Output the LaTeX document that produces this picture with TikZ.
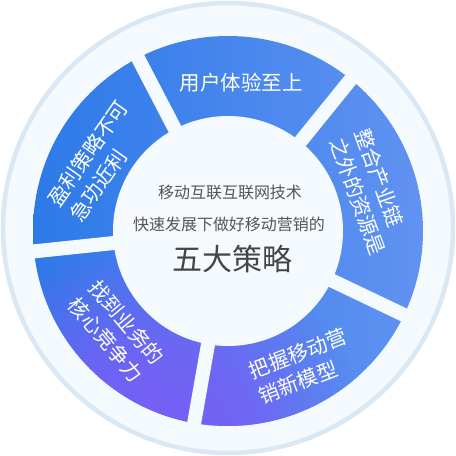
\documentclass[tikz,border=0pt]{standalone}
\usepackage{fontspec}
\newfontfamily\cjk{Noto Sans CJK SC}
\usetikzlibrary{fadings}
\definecolor{ringbg}{HTML}{F5FAFF}
\definecolor{ringline}{HTML}{DAE7F4}
\definecolor{segleft}{HTML}{2C7AE8}
\definecolor{segright}{HTML}{6192F1}
\definecolor{segglow}{HTML}{7E5BF7}
\definecolor{titlegray}{HTML}{555555}
\definecolor{titledark}{HTML}{454545}
% purple glow, opaque in the middle
\pgfdeclareradialshading{glowshade}{\pgfpointorigin}{color(0bp)=(white); color(12bp)=(white!72!black); color(25bp)=(black); color(50bp)=(black)}
\pgfdeclarefading{glowfade}{\pgfuseshading{glowshade}}
\begin{document}
\begin{tikzpicture}[x=1pt, y=1pt, every node/.style={font=\cjk},
    seglabel/.style={text=white, align=left, inner sep=0pt, font=\cjk\fontsize{20.5}{27}\selectfont},
    gapline/.style={ringbg, line width=14pt},
    titleline/.style={text=titlegray, font=\cjk\fontsize{16}{16}\selectfont}]
    \useasboundingbox (0,0) rectangle (456,456);
    \coordinate (o) at (228,228);
    \coordinate (c) at (228,225);

    % Внешний диск
    \draw[ringline, fill=ringbg, line width=4.5pt] (o) circle (225);

    % Цветное кольцо
    \begin{scope}
        \clip (c) circle (195);
        \shade[left color=segleft, right color=segright] (33,30) rectangle (423,420);
        \fill[segglow, path fading=glowfade] (150,6) circle (218);
    \end{scope}

    % Промежутки между частями
    \foreach \a in {51,117.5,186,260,334.5}
        \draw[gapline] (c) -- ++(\a:205);
    \fill[ringbg] (c) circle (115);

    % Пять частей
    \node[seglabel] (user) at ([shift={(84.8:148.6)}]c) {用户体验至上};
    \node[seglabel, rotate=55] (profit) at ([shift={(151.5:146.8)}]c) {盈利策略不可\\急功近利};
    \node[seglabel, rotate=-70] (chain) at ([shift={(15.3:147.7)}]c) {整合产业链\\之外的资源是};
    \node[seglabel, rotate=-50] (core) at ([shift={(221.8:150)}]c) {找到业务的\\核心竞争力};
    \node[seglabel, rotate=21] (model) at ([shift={(-61:154.4)}]c) {把握移动营\\销新模型};

    % Центр
    \node[titleline] (title1) at (230,264) {移动互联互联网技术};
    \node[titleline] (title2) at (229,232) {快速发展下做好移动营销的};
    \node[titleline, text=titledark, font=\cjk\fontsize{30}{30}\selectfont] (title3) at (232,197) {五大策略};
\end{tikzpicture}
\end{document}
